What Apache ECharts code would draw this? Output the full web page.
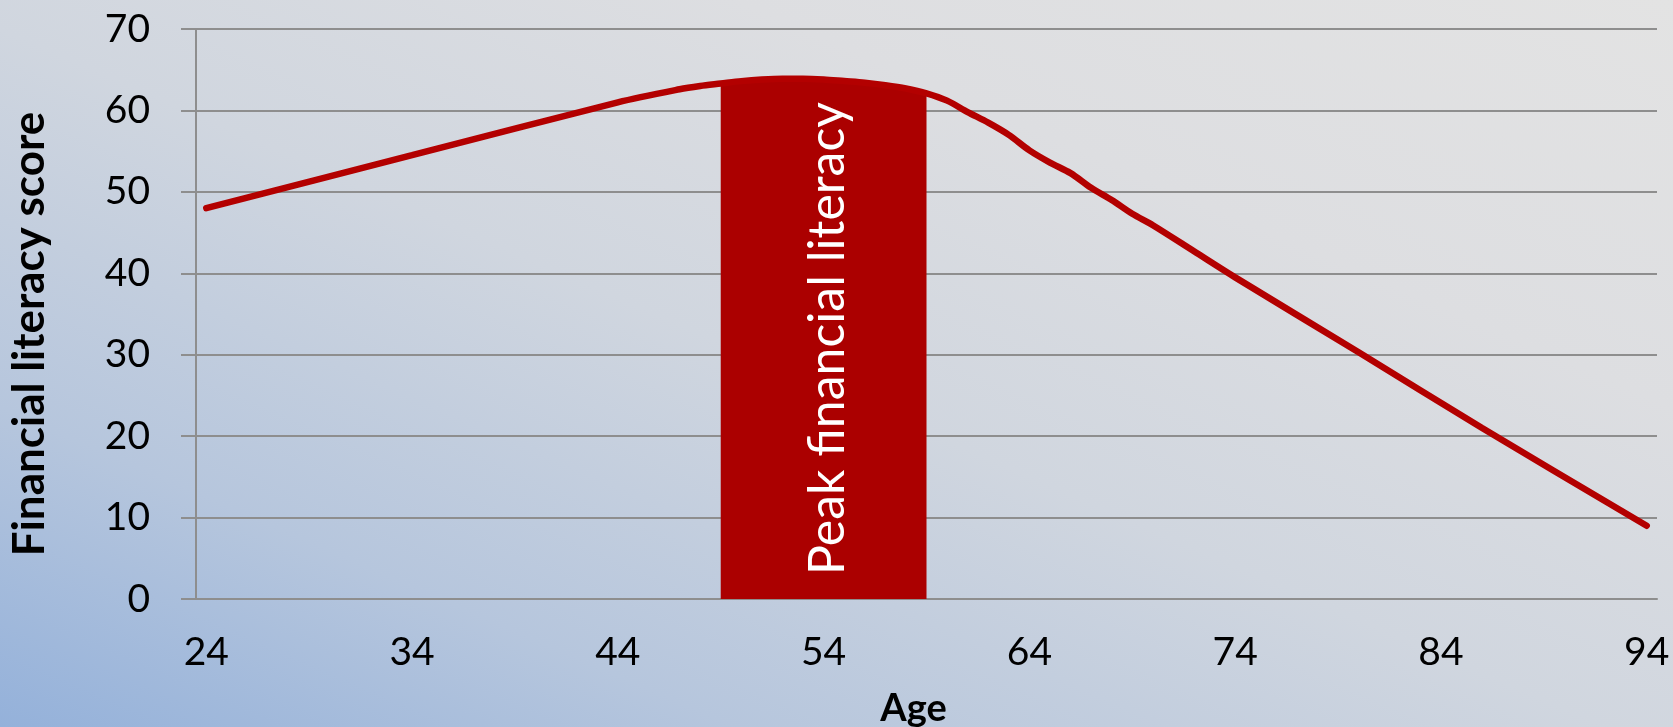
<!DOCTYPE html>
<html>
<head>
<meta charset="utf-8">
<script src="https://cdn.jsdelivr.net/npm/echarts@6/dist/echarts.min.js"></script>
<style>
  html, body { margin: 0; padding: 0; }
  #chart {
    width: 1673px;
    height: 727px;
    background: linear-gradient(to top right, #94B1DA 0%, #B6C6DD 22%, #D0D6DF 48%, #DDDEE1 72%, #E3E3E3 100%);
  }
</style>
</head>
<body>
<div id="chart"></div>
<script>
// age / score
const ages = [24, 34, 44, 47, 48, 49, 50, 51, 52, 53, 54, 55, 56, 57, 58, 59, 60, 61, 62, 63, 64, 65, 66, 67, 68, 69, 70, 72, 74, 80, 86, 94]
const scores = [48, 54.5, 61, 62.6, 63.0, 63.3, 63.6, 63.8, 63.9, 63.9, 63.8, 63.6, 63.4, 63.1, 62.7, 62.1, 61.2, 59.8, 58.5, 57.0, 55.1, 53.6, 52.3, 50.5, 49.0, 47.3, 45.9, 42.7, 39.5, 30.3, 21.0, 9.0]
const ageTicks = [24, 34, 44, 54, 64, 74, 84, 94]
const peakStart = 49
const peakEnd = 59
const peakLabel = 'Peak financial literacy'

const lineData = ages.map((a, i) => [a, scores[i]])
const peakData = lineData.filter(d => d[0] >= peakStart && d[0] <= peakEnd)

const font = 'Lato, "Open Sans", sans-serif'
const gridColor = '#8E8E8E'

let myEchart = echarts.init(document.getElementById('chart'))
myEchart.setOption({
  backgroundColor: 'transparent',
  textStyle: { fontFamily: font },
  grid: { left: 196, right: 16, top: 29, bottom: 128, outerBoundsMode: 'none' },
  xAxis: {
    type: 'value',
    min: 23.5,
    max: 94.5,
    name: 'Age',
    nameLocation: 'middle',
    nameGap: 91,
    nameTextStyle: { fontSize: 38, fontWeight: 'bold', color: '#000', fontFamily: font, padding: [0, 26, 0, 0] },
    axisLine: { show: true, lineStyle: { color: gridColor, width: 2 } },
    axisTick: { show: false },
    splitLine: { show: false },
    axisLabel: {
      customValues: ageTicks,
      margin: 34,
      fontSize: 39,
      color: '#000'
    }
  },
  yAxis: {
    type: 'value',
    min: 0,
    max: 70,
    interval: 10,
    name: 'Financial literacy score',
    nameLocation: 'middle',
    nameRotate: 90,
    nameGap: 144,
    nameTextStyle: { fontSize: 44, fontWeight: 'bold', color: '#000', fontFamily: font, padding: [0, 40, 0, 0] },
    axisLine: { show: true, lineStyle: { color: gridColor, width: 2 } },
    axisTick: { show: true, length: 15, lineStyle: { color: gridColor, width: 2 } },
    splitLine: { show: true, lineStyle: { color: gridColor, width: 2 } },
    axisLabel: { margin: 46, fontSize: 39, color: '#000' }
  },
  series: [
    {
      name: 'peak',
      type: 'line',
      data: peakData,
      smooth: 0.3,
      showSymbol: false,
      lineStyle: { width: 0 },
      areaStyle: { color: '#AB0000', opacity: 1 },
      z: 2,
      markPoint: {
        symbol: 'rect',
        symbolSize: 0,
        data: [{ coord: [54.2, 32.0] }],
        label: {
          show: true,
          formatter: peakLabel,
          rotate: 90,
          position: 'inside',
          color: '#fff',
          fontSize: 50,
          fontFamily: font
        }
      }
    },
    {
      name: 'score',
      type: 'line',
      data: lineData,
      smooth: 0.3,
      showSymbol: false,
      lineStyle: { color: '#B30000', width: 6.5, cap: 'round' },
      z: 3
    }
  ]
})
</script>
</body>
</html>
